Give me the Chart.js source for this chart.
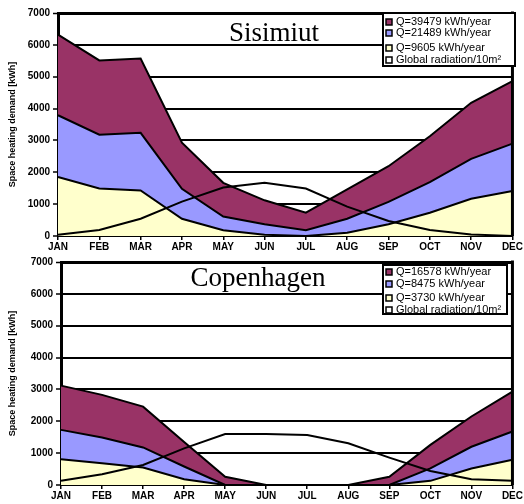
<!DOCTYPE html>
<html>
<head>
<meta charset="utf-8">
<script src="https://cdn.jsdelivr.net/npm/chart.js@4.4.0/dist/chart.umd.min.js"></script>
<style>
body { margin: 0; background: #fff; }
#top { position: absolute; left: 0; top: 0; }
#bottom { position: absolute; left: 0; top: 250px; }
</style>
</head>
<body>
<canvas id="top" width="524" height="250"></canvas>
<canvas id="bottom" width="524" height="254"></canvas>
<script>
var months = ['JAN', 'FEB', 'MAR', 'APR', 'MAY', 'JUN', 'JUL', 'AUG', 'SEP', 'OCT', 'NOV', 'DEC'];
var yTitle = 'Space heating demand [kWh]';

// Sisimiut
var sisTitle = 'Sisimiut';
var sisLabels = ['Q=39479 kWh/year', 'Q=21489 kWh/year', 'Q=9605 kWh/year', 'Global radiation/10m²'];
var sisHigh = [6320, 5510, 5570, 2930, 1670, 1120, 730, 1460, 2190, 3130, 4180, 4860];
var sisMid = [3790, 3180, 3240, 1480, 610, 370, 180, 540, 1070, 1690, 2420, 2900];
var sisLow = [1850, 1490, 1430, 540, 180, 40, 0, 100, 370, 730, 1170, 1410];
var sisRad = [40, 190, 540, 1080, 1520, 1670, 1490, 920, 470, 190, 50, 0];

// Copenhagen
var cphTitle = 'Copenhagen';
var cphLabels = ['Q=16578 kWh/year', 'Q=8475 kWh/year', 'Q=3730 kWh/year', 'Global radiation/10m²'];
var cphHigh = [3120, 2830, 2460, 1350, 260, 0, 0, 0, 260, 1260, 2150, 2930];
var cphMid = [1730, 1490, 1180, 580, 0, 0, 0, 0, 0, 520, 1200, 1680];
var cphLow = [810, 680, 550, 180, 0, 0, 0, 0, 0, 130, 520, 790];
var cphRad = [130, 340, 630, 1150, 1600, 1600, 1570, 1310, 860, 440, 180, 130];

var colors = ['#993366', '#9999ff', '#ffffcc', '#ffffff'];

Chart.defaults.font.family = 'Arial, "Liberation Sans", sans-serif';
Chart.defaults.color = '#000';

// frame on the right, title inside the plot, legend box
var decor = {
    id: 'decor',
    afterDraw: function (chart, args, o) {
        var ctx = chart.ctx, a = chart.chartArea;
        ctx.save();
        ctx.strokeStyle = '#000';
        ctx.lineWidth = 3;
        ctx.beginPath();
        ctx.moveTo(a.right, a.top - 1.5);
        ctx.lineTo(a.right, a.bottom);
        ctx.stroke();

        ctx.fillStyle = '#000';
        ctx.font = '27px "Liberation Serif", "Times New Roman", serif';
        ctx.textAlign = 'center';
        ctx.textBaseline = 'alphabetic';
        ctx.fillText(o.title, o.titleX, o.titleY);

        var b = o.box;
        ctx.fillStyle = '#fff';
        ctx.fillRect(b.x, b.y, b.w, b.h);
        ctx.lineWidth = 2;
        ctx.strokeRect(b.x, b.y, b.w, b.h);
        ctx.beginPath();
        ctx.rect(b.x, b.y, b.w - 1, b.h);
        ctx.clip();
        ctx.font = '11px Arial, "Liberation Sans", sans-serif';
        ctx.textAlign = 'left';
        ctx.textBaseline = 'middle';
        chart.data.datasets.forEach(function (d, i) {
            var y = b.y + o.rows[i];
            ctx.fillStyle = d.legendColor;
            ctx.fillRect(b.x + 3, y - 3, 6, 6);
            ctx.lineWidth = 1.5;
            ctx.strokeStyle = '#000';
            ctx.strokeRect(b.x + 3, y - 3, 6, 6);
            ctx.fillStyle = '#000';
            ctx.fillText(d.label, b.x + 13, y);
        });
        ctx.restore();
    }
};

function makeChart(id, labels, high, mid, low, rad, opt) {
    var ctx = document.getElementById(id).getContext('2d');
    return new Chart(ctx, {
        type: 'line',
        data: {
            labels: months,
            datasets: [
                { label: labels[0], data: high, fill: '+1', backgroundColor: colors[0], legendColor: colors[0] },
                { label: labels[1], data: mid, fill: '+1', backgroundColor: colors[1], legendColor: colors[1] },
                { label: labels[2], data: low, fill: 'origin', backgroundColor: colors[2], legendColor: colors[2] },
                { label: labels[3], data: rad, fill: false, legendColor: colors[3], order: -1 }
            ]
        },
        options: {
            responsive: false,
            animation: false,
            borderColor: '#000',
            elements: {
                line: { borderColor: '#000', borderWidth: 2, tension: 0 },
                point: { radius: 0 }
            },
            layout: { padding: { top: opt.padTop, right: 10, left: 0, bottom: 0 } },
            plugins: {
                legend: { display: false },
                tooltip: { enabled: false },
                filler: { drawTime: 'beforeDatasetsDraw' },
                decor: opt.decor
            },
            scales: {
                x: {
                    offset: false,
                    grid: { drawOnChartArea: false, color: '#000', tickLength: 4, lineWidth: 1.5 },
                    border: { color: '#000', width: 2 },
                    ticks: { font: { size: 10, weight: 'bold' }, padding: 1, maxRotation: 0, autoSkip: false },
                    afterFit: function (s) { s.height = opt.xh; }
                },
                y: {
                    min: 0,
                    max: 7000,
                    ticks: {
                        stepSize: 1000,
                        font: { size: 10, weight: 'bold' },
                        padding: 3,
                        callback: function (v) { return String(v); }
                    },
                    grid: {
                        color: '#000',
                        lineWidth: function (c) { return c.tick && c.tick.value === 7000 ? 3 : 2; },
                        tickLength: 5,
                        tickWidth: 1.5
                    },
                    border: { color: '#000', width: 3 },
                    title: { display: true, text: yTitle, font: { size: 9, weight: 'bold' }, padding: { top: 7, bottom: 0 } },
                    afterFit: function (s) { s.width = opt.yw; }
                }
            }
        },
        plugins: [decor]
    });
}

makeChart('top', sisLabels, sisHigh, sisMid, sisLow, sisRad, {
    padTop: 13, xh: 14, yw: 58,
    decor: { title: sisTitle, titleX: 274, titleY: 41, box: { x: 383, y: 13, w: 132, h: 53 }, rows: [9, 20, 35, 47] }
});

makeChart('bottom', cphLabels, cphHigh, cphMid, cphLow, cphRad, {
    padTop: 12, xh: 19, yw: 61,
    decor: { title: cphTitle, titleX: 258, titleY: 36, box: { x: 383, y: 15, w: 124, h: 49 }, rows: [7, 19, 33, 45] }
});
</script>
</body>
</html>
